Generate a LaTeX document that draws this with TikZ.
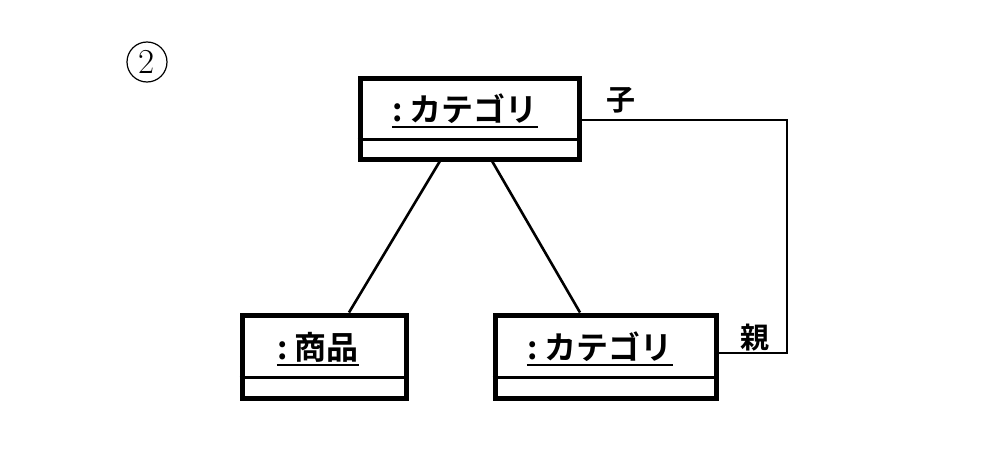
\documentclass[tikz,border=0pt]{standalone}
\usepackage{fontspec}
\newfontfamily\cjk{Noto Sans CJK JP}[BoldFont={Noto Sans CJK JP Bold}]
\begin{document}
\begin{tikzpicture}[x=1pt,y=-1pt,
  objbox/.style={draw,line width=5pt,inner sep=0pt},
  objtext/.style={inner sep=0pt,anchor=base,font=\cjk\bfseries\fontsize{32}{32}\selectfont},
  lbl/.style={inner sep=0pt,font=\cjk\bfseries\fontsize{29}{29}\selectfont},
  link/.style={line width=2.6pt},
  assoc/.style={line width=2.2pt}]
\useasboundingbox (0,0) rectangle (1000,452);
% circled number
\node[draw,circle,line width=1.2pt,minimum size=40pt,inner sep=0pt,font=\fontsize{35}{35}\selectfont] (num) at (147,62) {2};
% boxes
\node[objbox,minimum width=219pt,minimum height=81pt] (c1) at (469.5,118.5) {};
\node[objbox,minimum width=164pt,minimum height=83pt] (p) at (324,356.5) {};
\node[objbox,minimum width=221pt,minimum height=83pt] (c2) at (605.5,356.5) {};
% dividers
\draw[line width=2.4pt] ([yshift=22pt]c1.south west) -- ([yshift=22pt]c1.south east);
\draw[line width=2.4pt] ([yshift=23pt]p.south west) -- ([yshift=23pt]p.south east);
\draw[line width=2.4pt] ([yshift=23pt]c2.south west) -- ([yshift=23pt]c2.south east);
% texts
\node[objtext] (t1) at (465,121) {:\ カテゴリ};
\node[objtext] (t2) at (318,359) {:\ 商品};
\node[objtext] (t3) at (600,359) {:\ カテゴリ};
\foreach \t in {t1,t2,t3}{
  \draw[line width=2.2pt] ([yshift=-6pt]\t.base west) -- ([yshift=-6pt]\t.base east);
}
% links
\draw[link] (440,161) -- (p.north -| 349,0);
\draw[link] (492,161) -- (c2.north -| 580,0);
\coordinate (k1) at (787,120);
\coordinate (k2) at (787,353);
\draw[assoc] (c1.east |- k1) -- (k1) -- (k2) -- (c2.east |- k2);
\node[lbl] (child) at (621,100) {子};
\node[lbl] (parent) at (755,338) {親};
\end{tikzpicture}
\end{document}
